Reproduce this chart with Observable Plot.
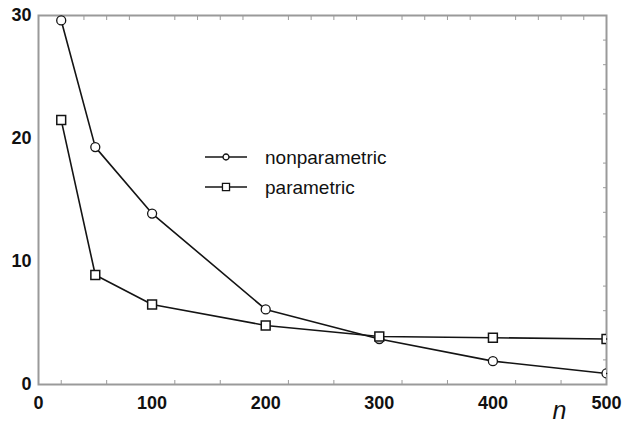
<!DOCTYPE html>
<html>
<head>
<meta charset="utf-8">
<script src="https://cdn.jsdelivr.net/npm/d3@7"></script>
<script src="https://cdn.jsdelivr.net/npm/@observablehq/plot@0.6"></script>
<style>
  html, body { margin: 0; padding: 0; background: #fff; }
  #wrap { position: relative; width: 623px; height: 423px; }
  #legend { position: absolute; left: 0; top: 0; pointer-events: none; }
  svg text { font-family: "Liberation Sans", Arial, sans-serif; }
</style>
</head>
<body>
<div id="wrap"></div>
<script>
const nValues = [20, 50, 100, 200, 300, 400, 500];
const nonparametric = [29.6, 19.3, 13.9, 6.1, 3.7, 1.9, 0.9];
const parametric = [21.5, 8.9, 6.5, 4.8, 3.9, 3.8, 3.7];
const seriesNames = ["nonparametric", "parametric"];
const xTicks = [0, 100, 200, 300, 400, 500];
const yTicks = [0, 10, 20, 30];
const xMinor = d3.range(20, 500, 20).filter(v => v % 100 !== 0);
const yMinor = d3.range(2, 30, 2).filter(v => v % 10 !== 0);

const rows = [];
nValues.forEach((n, i) => {
  rows.push({n, value: nonparametric[i], series: seriesNames[0]});
  rows.push({n, value: parametric[i], series: seriesNames[1]});
});

const lineColor = "#141414";
const frameColor = "#9a9a9a";

const chart = Plot.plot({
  width: 623,
  height: 423,
  marginLeft: 38,
  marginRight: 17,
  marginTop: 15,
  marginBottom: 39,
  style: {fontFamily: "Liberation Sans, Arial, sans-serif", background: "#fff"},
  x: {domain: [0, 500]},
  y: {domain: [0, 30]},
  marks: [
    Plot.axisX(xMinor, {anchor: "top", tickSize: -4, text: null, label: null, stroke: frameColor}),
    Plot.axisX(xMinor.filter((v, i) => i % 2 === 0), {anchor: "bottom", tickSize: -4, text: null, label: null, stroke: frameColor}),
    Plot.axisY(yMinor, {anchor: "right", tickSize: -4, text: null, label: null, stroke: frameColor}),
    Plot.axisX(xTicks, {anchor: "bottom", tickSize: 0, tickPadding: 12, label: null, fontSize: 18, fontWeight: "bold", fill: "#111"}),
    Plot.axisY(yTicks, {anchor: "left", tickSize: 0, tickPadding: 7, label: null, fontSize: 18, fontWeight: "bold", fill: "#111"}),
    Plot.frame({stroke: frameColor, strokeWidth: 2}),
    Plot.line(rows, {x: "n", y: "value", z: "series", stroke: lineColor, strokeWidth: 1.6}),
    Plot.dot(rows.filter(d => d.series === seriesNames[0]), {x: "n", y: "value", symbol: "circle", r: 4.5, fill: "white", stroke: lineColor, strokeWidth: 1.3, clip: "frame"}),
    Plot.dot(rows.filter(d => d.series === seriesNames[1]), {x: "n", y: "value", symbol: "square", r: 5, fill: "white", stroke: lineColor, strokeWidth: 1.5, clip: "frame"}),
    Plot.text(["n"], {frameAnchor: "bottom-right", dx: -40, dy: 34, fontSize: 25, fontStyle: "italic", fill: "#111", text: d => d})
  ]
});
document.getElementById("wrap").appendChild(chart);

// Legend overlay
const legend = d3.select("#wrap").append("svg")
  .attr("id", "legend").attr("width", 623).attr("height", 423);
const items = legend.selectAll("g").data(seriesNames).join("g")
  .attr("transform", (d, i) => `translate(205,${157 + i * 30})`);
items.append("line").attr("x1", 0).attr("x2", 42).attr("y1", 0).attr("y2", 0)
  .attr("stroke", lineColor).attr("stroke-width", 1.5);
items.append("path")
  .attr("d", (d, i) => d3.symbol(i === 0 ? d3.symbolCircle : d3.symbolSquare, i === 0 ? 28 : 50)())
  .attr("transform", "translate(21,0)")
  .attr("fill", "white").attr("stroke", lineColor).attr("stroke-width", 1.3);
items.append("text").attr("x", 60).attr("y", 0).attr("dy", "0.36em")
  .attr("font-size", 19).attr("fill", "#111").text(d => d);
</script>
</body>
</html>
